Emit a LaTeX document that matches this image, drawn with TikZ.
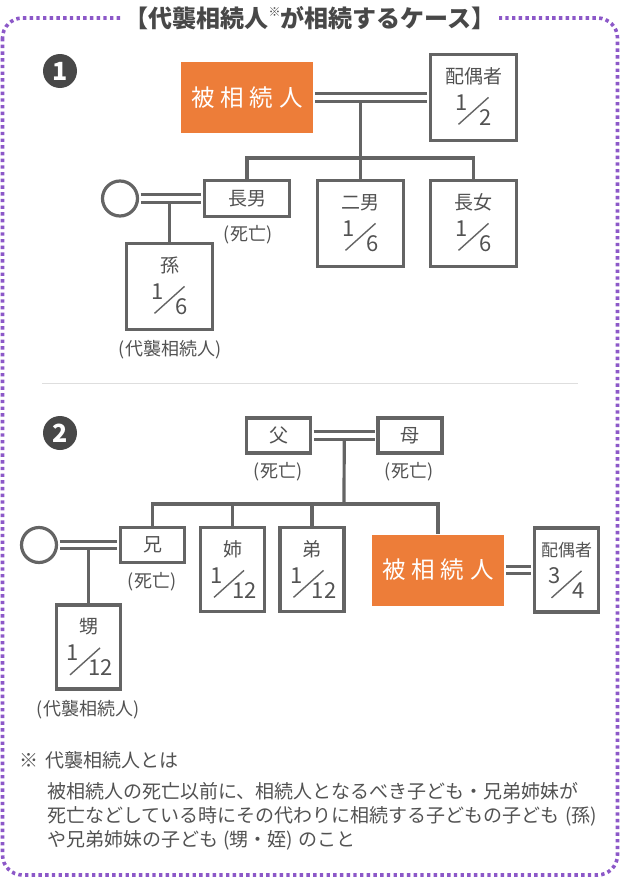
\documentclass[tikz,border=0pt]{standalone}
\usepackage{fontspec}
\setmainfont{Noto Sans CJK JP}
\usepackage{tikz}
\usetikzlibrary{positioning,calc}
\definecolor{lineg}{RGB}{100,100,100}
\definecolor{textg}{RGB}{82,82,82}
\definecolor{heiror}{RGB}{237,125,57}
\definecolor{framep}{RGB}{140,88,200}
\definecolor{badgeg}{RGB}{72,72,72}
\definecolor{ruleg}{RGB}{222,222,222}
\tikzset{
	box/.style={draw=lineg, line width=3.2pt, fill=white, inner sep=0pt, text=textg, font=\fontsize{19}{19}\selectfont},
	tallbox/.style={box, minimum width=86pt, minimum height=86pt},
	shortbox/.style={box, minimum width=85pt, minimum height=36pt},
	slimtall/.style={box, minimum width=64pt, minimum height=84pt},
	slimshort/.style={box, minimum width=64pt, minimum height=35pt},
	spouse/.style={circle, draw=lineg, line width=3.2pt, fill=white, minimum size=35pt, inner sep=0pt},
	heir/.style={fill=heiror, text=white, minimum width=132pt, minimum height=71pt, inner sep=0pt, font=\fontsize{23.5}{23.5}\selectfont},
	badge/.style={circle, fill=badgeg, text=white, minimum size=34pt, inner sep=0pt, font=\bfseries\fontsize{25}{25}\selectfont},
	kin/.style={text=textg, inner sep=0pt, font=\fontsize{19}{19}\selectfont},
	num/.style={text=textg, inner sep=0pt, font=\fontsize{22}{22}\selectfont},
	remark/.style={text=textg, inner sep=0pt, font=\fontsize{18}{18}\selectfont},
	tie/.style={draw=lineg, line width=3.2pt},
	slash/.style={draw=lineg, line width=1.4pt},
	marriage/.style={draw=lineg, line width=3.2pt, double=white, double distance=4.3pt, shorten <=1.6pt, shorten >=1.6pt},
	note/.style={text=textg, inner sep=0pt, anchor=base west, font=\fontsize{19}{19}\selectfont},
}
\newcommand{\heirname}{被\hspace{6pt}相\hspace{6pt}続\hspace{6pt}人}
\newcommand{\share}[5][0]{%
	\node[kin] (#2-name) at ([yshift=-23.5pt]#2.north) {#3};
	\node[num] (#2-num) at ([xshift={#1pt-12pt},yshift=-49.5pt]#2.north) {#4};
	\draw[slash] ([xshift={#1pt-15pt},yshift=-71.5pt]#2.north) -- ([xshift={#1pt+15pt},yshift=-44.5pt]#2.north);
	\node[num] (#2-den) at ([xshift=12pt,yshift=-64.5pt]#2.north) {#5};
}
\begin{document}
\begin{tikzpicture}[x=1pt,y=-1pt]
	\useasboundingbox (0,0) rectangle (620,878);
	\draw[framep, line width=3.6pt, dash pattern=on 3.4pt off 3.3pt, rounded corners=20pt] (2.5,18) rectangle (617.5,875);
	\node[fill=white, inner xsep=4pt, inner ysep=0pt, text=badgeg, font=\bfseries\fontsize{24}{24}\selectfont] (title) at (310,18) {【代襲相続人\raisebox{0.45em}{\fontsize{12}{12}\selectfont ※}が相続するケース】};

	\node[badge] (case1) at (60,71) {1};
	\node[heir] (heir1) at (247,97.5) {\heirname};
	\node[tallbox] (sp1) at (473.5,97.5) {};
	\node[shortbox] (son1) at (247,198.5) {長男};
	\node[tallbox] (son2) at (360.5,223.5) {};
	\node[tallbox] (dau1) at (473.5,223.5) {};
	\node[spouse] (wife1) at (120,198.5) {};
	\node[tallbox] (gc1) at (169.5,286.5) {};
	\share{sp1}{配偶者}{1}{2}
	\share{son2}{二男}{1}{6}
	\share{dau1}{長女}{1}{6}
	\share{gc1}{孫}{1}{6}
	\node[remark] (dead1) at (248,235) {(死亡)};
	\node[remark] (rep1) at (170,350) {(代襲相続人)};
	\coordinate (kids1) at (son2.north |- heir1.east);
	\coordinate (bar1) at (360.5,158);
	\draw[tie] (kids1) -- (son2.north);
	\draw[tie] (son1.north) |- (dau1.north |- bar1) -- (dau1.north);
	\draw[tie] (gc1.north) -- (gc1.north |- wife1.east);
	\draw[marriage] (heir1) -- (sp1);
	\draw[marriage] (wife1) -- (son1);

	\draw[ruleg, line width=1.5pt] (42,383.5) -- (578,383.5);

	\node[badge] (case2) at (60,433) {2};
	\node[slimshort] (fa) at (278.5,435.5) {父};
	\node[slimshort] (mo) at (410,435.5) {母};
	\node[remark] (dead2) at (278,472) {(死亡)};
	\node[remark] (dead3) at (409,472) {(死亡)};
	\node[slimshort] (bro) at (152.5,545) {兄};
	\node[slimtall] (sis) at (232.5,569.5) {};
	\node[slimtall] (ybro) at (312,569.5) {};
	\node[heir] (heir2) at (438,570) {\heirname};
	\node[slimtall] (sp2) at (566.5,570) {};
	\node[spouse] (wife2) at (39,545) {};
	\node[slimtall] (nep) at (88.5,647) {};
	\share[-3.5]{sis}{姉}{1}{12}
	\share[-3.5]{ybro}{弟}{1}{12}
	\share{sp2}{\fontsize{17}{17}\selectfont 配偶者}{3}{4}
	\share[-3.5]{nep}{甥}{1}{12}
	\node[remark] (dead4) at (152,582) {(死亡)};
	\node[remark] (rep2) at (88,710) {(代襲相続人)};
	\coordinate (par) at ($(fa.east)!0.5!(mo.west)$);
	\coordinate (bar2) at (344,504);
	\draw[tie] (par) -- (bar2);
	\draw[tie] (bro.north) |- (heir2.north |- bar2) -- (heir2.north);
	\draw[tie] (sis.north) -- (sis.north |- bar2);
	\draw[tie] (ybro.north) -- (ybro.north |- bar2);
	\draw[tie] (nep.north) -- (nep.north |- wife2.east);
	\draw[marriage] (fa) -- (mo);
	\draw[marriage] (heir2) -- (sp2);
	\draw[marriage] (wife2) -- (bro);

	\node[note] (notehead) at (19,767) {※\hspace{7pt}代襲相続人とは};
	\node[note] (note1) at (47,798) {被相続人の死亡以前に、相続人となるべき子ども・兄弟姉妹が};
	\node[note] (note2) at (47,822) {死亡などしている時にその代わりに相続する子どもの子ども\hspace{6pt}(孫)};
	\node[note] (note3) at (47,846) {や兄弟姉妹の子ども\hspace{5pt}(甥・姪)\hspace{5pt}のこと};
\end{tikzpicture}
\end{document}
